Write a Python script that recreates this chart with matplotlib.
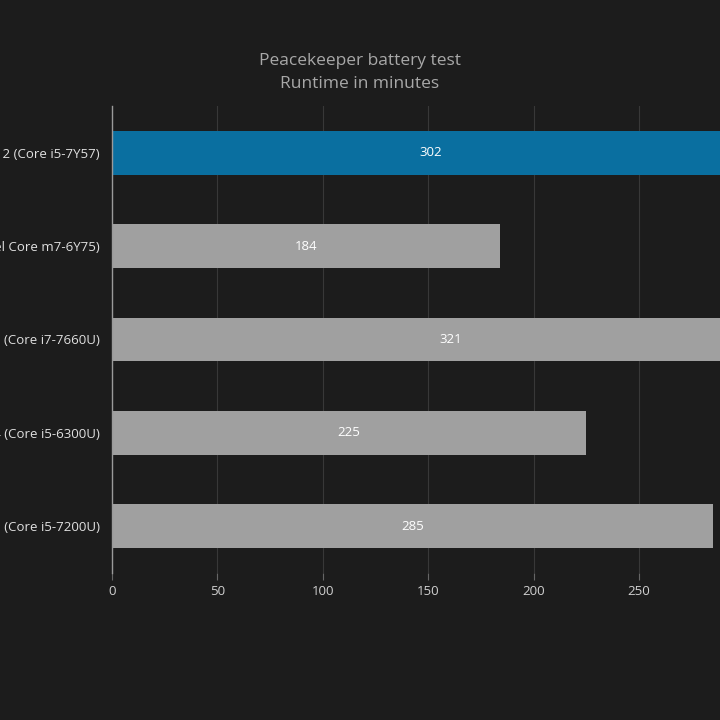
import numpy as np
import matplotlib
matplotlib.use("Agg")
import matplotlib.pyplot as plt

plt.rcParams['font.family'] = ['Open Sans', 'DejaVu Sans']

labels = ["Lenovo ThinkPad X1 Tablet Gen 2 (Core i5-7Y57)",
          "Lenovo ThinkPad X1 Tablet (Intel Core m7-6Y75)",
          "Microsoft Surface Pro 2017 (Core i7-7660U)",
          "Microsoft Surface Pro 4 (Core i5-6300U)",
          "Samsung Galaxy Book 12 (Core i5-7200U)"]
values = [302, 184, 321, 225, 285]
colors = ["#0a6fa0", "#a0a0a0", "#a0a0a0", "#a0a0a0", "#a0a0a0"]
xticks = [0, 50, 100, 150, 200, 250]

bg = "#1c1c1c"
fig = plt.figure(figsize=(7.2, 7.2), dpi=100, facecolor=bg)
ax = fig.add_axes([0.1556, 0.2042, 1.0247, 0.6486], facecolor=bg)

y = np.arange(len(labels))
ax.barh(y, values, height=0.47, color=colors, zorder=2)
for yi, v in zip(y, values):
    ax.text(v / 2, yi, str(v), ha="center", va="center", color="white",
            fontsize=9.5, zorder=4)

ax.set_xlim(0, 350)
ax.set_ylim(len(labels) - 0.5, -0.5)
ax.set_xticks(xticks)
ax.set_yticks(y)
ax.set_yticklabels(labels)
ax.grid(axis="x", color="#555555", linewidth=0.8, alpha=0.5, zorder=3)
ax.tick_params(axis="x", colors="#666666", labelcolor="#d0d0d0", labelsize=9.5,
               length=5, pad=4)
ax.tick_params(axis="y", length=0, labelcolor="#e0e0e0", labelsize=9.5, pad=9)
for s in ["top", "right", "bottom"]:
    ax.spines[s].set_visible(False)
ax.spines["left"].set_color("#9a9a9a")
ax.spines["left"].set_linewidth(1)

fig.text(0.5, 0.915, "Peacekeeper battery test", ha="center", va="center",
         color="#a8a8a8", fontsize=12.5)
fig.text(0.5, 0.883, "Runtime in minutes", ha="center", va="center",
         color="#a8a8a8", fontsize=12.5)

fig.savefig("out.png", dpi=100, facecolor=bg)
